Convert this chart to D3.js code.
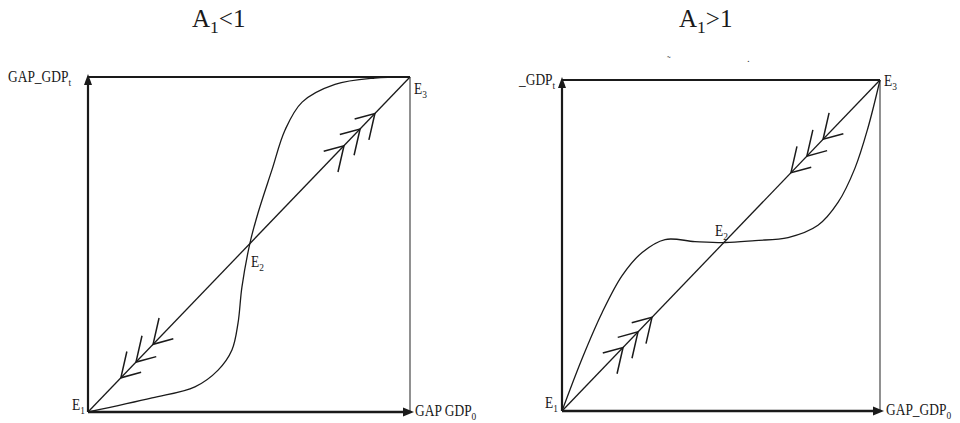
<!DOCTYPE html>
<html>
<head>
<meta charset="utf-8">
<script src="https://cdn.jsdelivr.net/npm/d3@7"></script>
<style>
  html, body { margin: 0; padding: 0; background: #ffffff; }
  svg { display: block; font-family: "Liberation Serif", "DejaVu Serif", serif; }
</style>
</head>
<body>
<svg id="chart" width="960" height="423"></svg>
<script>
// ==============================
// DATA (unit square, 0..1 on both axes)
// ==============================

const panelTitles = ["A1<1", "A1>1"];

// S-curve for A1 < 1
const lowCurveX = [0, 0.199, 0.332, 0.404, 0.447, 0.466, 0.478, 0.503, 0.528, 0.571, 0.612, 0.665, 0.767, 0.891, 1];
const lowCurveY = [0, 0.042, 0.075, 0.125, 0.185, 0.266, 0.373, 0.504, 0.594, 0.722, 0.842, 0.925, 0.978, 0.997, 1];

// S-curve for A1 > 1
const highCurveX = [0, 0.063, 0.126, 0.189, 0.252, 0.324, 0.418, 0.513, 0.607, 0.711, 0.805, 0.868, 0.921, 0.962, 1];
const highCurveY = [0, 0.158, 0.297, 0.409, 0.479, 0.518, 0.512, 0.509, 0.515, 0.524, 0.561, 0.630, 0.733, 0.855, 1];

// chevron positions along the 45 degree line, +1 = towards E3, -1 = towards E1
const lowArrowsT = [0.102, 0.149, 0.202, 0.795, 0.845, 0.891];
const lowArrowsDir = [-1, -1, -1, 1, 1, 1];
const highArrowsT = [0.192, 0.239, 0.283, 0.720, 0.770, 0.821];
const highArrowsDir = [1, 1, 1, -1, -1, -1];

// ==============================
// LAYOUT
// ==============================

const svg = d3.select("#chart");
const ink = "#1a1a1a";

const panels = [
  {
    title: panelTitles[0], titleX: 220,
    left: 88, right: 410, bottom: 412, top: 77,
    curveX: lowCurveX, curveY: lowCurveY,
    arrowsT: lowArrowsT, arrowsDir: lowArrowsDir,
    yLabel: ["GAP_GDP", "t"], yLabelX: 8, yLabelY: 82,
    xLabel: ["GAP GDP", "0"], xLabelX: 415, xLabelY: 416,
    e1: [72, 410], e2: [251, 267], e3: [414, 94]
  },
  {
    title: panelTitles[1], titleX: 707,
    left: 562, right: 880, bottom: 411, top: 80,
    curveX: highCurveX, curveY: highCurveY,
    arrowsT: highArrowsT, arrowsDir: highArrowsDir,
    yLabel: ["_GDP", "t"], yLabelX: 519, yLabelY: 85,
    xLabel: ["GAP_GDP", "0"], xLabelX: 886, xLabelY: 415,
    e1: [545, 408], e2: [715, 236], e3: [884, 86]
  }
];

// text helper: main text + subscript, slightly condensed like the source
function subText(x, y, main, sub, size, squeeze) {
  const g = svg.append("g")
    .attr("transform", `translate(${x},${y}) scale(${squeeze},1)`);
  const t = g.append("text")
    .attr("x", 0)
    .attr("y", 0)
    .attr("fill", ink)
    .attr("font-size", size + "px");
  t.append("tspan").text(main);
  t.append("tspan")
    .attr("dy", size * 0.25)
    .attr("font-size", (size * 0.7) + "px")
    .text(sub);
  return t;
}

panels.forEach(p => {
  const x = d3.scaleLinear().domain([0, 1]).range([p.left, p.right]);
  const y = d3.scaleLinear().domain([0, 1]).range([p.bottom, p.top]);

  // title
  subText(p.titleX - 28, 27, p.title.slice(0, 1), "1", 25, 1)
    .append("tspan")
    .attr("dy", -25 * 0.25)
    .attr("font-size", "25px")
    .text(p.title.slice(2));

  // frame: top and right edges
  svg.append("line")
    .attr("x1", x(0)).attr("y1", y(1))
    .attr("x2", x(1)).attr("y2", y(1))
    .attr("stroke", ink).attr("stroke-width", 2);

  svg.append("line")
    .attr("x1", x(1)).attr("y1", y(1))
    .attr("x2", x(1)).attr("y2", y(0))
    .attr("stroke", "#555").attr("stroke-width", 1.3);

  // axes
  svg.append("line")
    .attr("x1", x(0)).attr("y1", y(0))
    .attr("x2", x(0)).attr("y2", y(1) + 6)
    .attr("stroke", ink).attr("stroke-width", 2.2);

  svg.append("line")
    .attr("x1", x(0)).attr("y1", y(0))
    .attr("x2", x(1) - 4).attr("y2", y(0))
    .attr("stroke", ink).attr("stroke-width", 2.4);

  // arrowheads
  svg.append("path")
    .attr("d", `M${x(0)},${y(1) - 3} L${x(0) - 4},${y(1) + 8} L${x(0) + 4},${y(1) + 8} Z`)
    .attr("fill", ink);

  svg.append("path")
    .attr("d", `M${x(1) + 4},${y(0)} L${x(1) - 7},${y(0) - 4.5} L${x(1) - 7},${y(0) + 4.5} Z`)
    .attr("fill", ink);

  // 45 degree line
  svg.append("line")
    .attr("x1", x(0)).attr("y1", y(0))
    .attr("x2", x(1)).attr("y2", y(1))
    .attr("stroke", ink).attr("stroke-width", 1.3);

  // S-curve
  const curvePoints = p.curveX.map((v, i) => [v, p.curveY[i]]);
  const line = d3.line()
    .x(d => x(d[0]))
    .y(d => y(d[1]))
    .curve(d3.curveCatmullRom.alpha(0.5));

  svg.append("path")
    .datum(curvePoints)
    .attr("d", line)
    .attr("fill", "none")
    .attr("stroke", ink)
    .attr("stroke-width", 1.3);

  // chevrons on the 45 degree line
  const forward = Math.atan2(y(1) - y(0), x(1) - x(0));
  const spread = 31 * Math.PI / 180;

  p.arrowsT.forEach((t, i) => {
    const heading = p.arrowsDir[i] > 0 ? forward : forward + Math.PI;
    const back = heading + Math.PI;
    const vx = x(t);
    const vy = y(t);
    const a1 = back + spread;
    const a2 = back - spread;
    // the flatter barb is a little shorter than the steep one
    const len1 = Math.abs(Math.sin(a1)) < Math.abs(Math.sin(a2)) ? 21 : 27;
    const len2 = len1 === 21 ? 27 : 21;
    svg.append("path")
      .attr("d",
        `M${vx + len1 * Math.cos(a1)},${vy + len1 * Math.sin(a1)} ` +
        `L${vx},${vy} ` +
        `L${vx + len2 * Math.cos(a2)},${vy + len2 * Math.sin(a2)}`)
      .attr("fill", "none")
      .attr("stroke", ink)
      .attr("stroke-width", 1.5);
  });

  // labels
  subText(p.yLabelX, p.yLabelY, p.yLabel[0], p.yLabel[1], 16, 0.84);
  subText(p.xLabelX, p.xLabelY, p.xLabel[0], p.xLabel[1], 16, 0.84);
  subText(p.e1[0], p.e1[1], "E", "1", 16, 0.84);
  subText(p.e2[0], p.e2[1], "E", "2", 16, 0.84);
  subText(p.e3[0], p.e3[1], "E", "3", 16, 0.84);
});

// clipped remnants of a caption above the right panel
svg.append("text").attr("x", 667).attr("y", 64).attr("font-size", "11px").attr("fill", "#444").text("˜");
svg.append("text").attr("x", 747).attr("y", 62).attr("font-size", "11px").attr("fill", "#444").text(".");
</script>
</body>
</html>
